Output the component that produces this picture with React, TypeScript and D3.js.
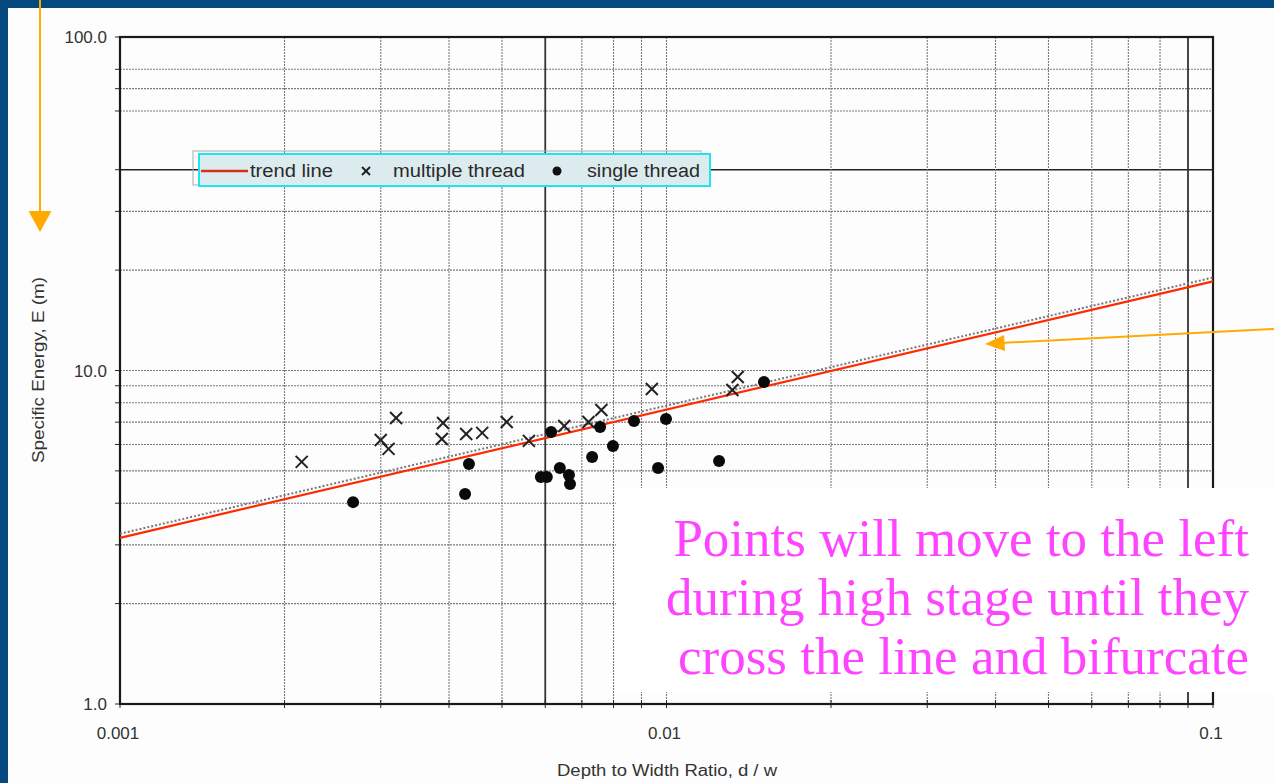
import React from "react";
import * as d3 from "d3";

// ---------- data ----------
const multipleThreadX = [0.00215, 0.0030, 0.0031, 0.0032, 0.0039, 0.00388, 0.0043, 0.0046, 0.0051, 0.0056, 0.0065, 0.0072, 0.0076, 0.0094, 0.0132, 0.0135];
const multipleThreadY = [5.32, 6.19, 5.82, 7.2, 6.96, 6.23, 6.45, 6.5, 7.01, 6.15, 6.82, 7.01, 7.61, 8.8, 8.74, 9.56];
const singleThreadX = [0.00267, 0.00428, 0.00435, 0.00589, 0.00604, 0.00615, 0.00638, 0.00663, 0.00666, 0.00731, 0.00756, 0.00798, 0.00872, 0.00965, 0.00998, 0.01248, 0.01508];
const singleThreadY = [4.03, 4.26, 5.24, 4.79, 4.79, 6.54, 5.1, 4.86, 4.57, 5.5, 6.77, 5.94, 7.06, 5.1, 7.15, 5.35, 9.24];
const trendX = [0.001, 0.1];
const trendY = [3.15, 18.5];
const trendShadowY = [3.24, 19.0];
const xGrid = [0.002, 0.003, 0.004, 0.005, 0.006, 0.007, 0.008, 0.009, 0.01, 0.02, 0.03, 0.04, 0.05, 0.06, 0.07, 0.08, 0.09];
const xGridHeavy = [0.006, 0.09];
const yGrid = [2, 3, 4, 5, 6, 7, 8, 9, 10, 20, 30, 40, 60, 70, 80];
const yGridHeavy = [40];
const xTickLabels = [0.001, 0.01, 0.1];
const xTickText = ["0.001", "0.01", "0.1"];
const yTickLabels = [1, 10, 100];
const yTickText = ["1.0", "10.0", "100.0"];
const legendLabels = ["trend line", "multiple thread", "single thread"];
const noteLines = ["Points will move to the left", "during high stage until they", "cross the line and bifurcate"];

const W = 1274;
const H = 783;
const BLUE = "#044a7e";
const ORANGE = "#ffaa00";

export default function App() {
  const x = d3.scaleLog().domain([0.001, 0.1]).range([120, 1213]);
  const y = d3.scaleLog().domain([1, 100]).range([704, 37]);
  const [x0, x1] = x.range();
  const [yb, yt] = y.range();

  const trendLine = d3.line<number>().x((_, i) => x(trendX[i])).y((d) => y(d));

  const sans = "'Liberation Sans', Arial, sans-serif";
  const ink = "#2a2a2a";

  return (
    <div style={{ position: "fixed", left: 0, top: 0, width: W, height: H }}>
      <svg width={W} height={H} style={{ display: "block" }}>
        <rect x={0} y={0} width={W} height={H} fill={BLUE} />
        <rect x={8} y={8} width={W - 8} height={H - 8} fill="#fdfdfd" />

        {/* grid */}
        <g>
          {yGrid.map((v) => (
            <line
              key={"yg" + v}
              x1={x0}
              x2={x1}
              y1={y(v)}
              y2={y(v)}
              stroke={yGridHeavy.includes(v) ? "#222" : "#7a7a7a"}
              strokeWidth={yGridHeavy.includes(v) ? 1.6 : 1.1}
              strokeDasharray={yGridHeavy.includes(v) ? undefined : "2,1"}
            />
          ))}
          {xGrid.map((v) => (
            <line
              key={"xg" + v}
              x1={x(v)}
              x2={x(v)}
              y1={yt}
              y2={yb}
              stroke={xGridHeavy.includes(v) ? "#333" : "#7a7a7a"}
              strokeWidth={xGridHeavy.includes(v) ? 1.8 : 1.1}
              strokeDasharray={xGridHeavy.includes(v) ? undefined : "2,1"}
            />
          ))}
        </g>

        {/* axis ticks */}
        <g stroke={ink} strokeWidth={1}>
          {yGrid.concat(yTickLabels).map((v) => (
            <line key={"yt" + v} x1={x0 - 5} x2={x0} y1={y(v)} y2={y(v)} />
          ))}
          {xGrid.concat(xTickLabels).map((v) => (
            <line key={"xt" + v} x1={x(v)} x2={x(v)} y1={yb - 4} y2={yb + 4} />
          ))}
        </g>

        {/* frame */}
        <rect x={x0} y={yt} width={x1 - x0} height={yb - yt} fill="none" stroke="#1a1a1a" strokeWidth={2.2} />

        {/* trend lines */}
        <path d={trendLine(trendShadowY) || ""} fill="none" stroke="#777" strokeWidth={2} strokeDasharray="2,2" />
        <path d={trendLine(trendY) || ""} fill="none" stroke="#ff2a00" strokeWidth={2.2} />

        {/* points */}
        <g stroke="#222" strokeWidth={2}>
          {multipleThreadX.map((v, i) => {
            const cx = x(v);
            const cy = y(multipleThreadY[i]);
            const s = 6;
            return (
              <g key={"m" + i}>
                <line x1={cx - s} y1={cy - s} x2={cx + s} y2={cy + s} />
                <line x1={cx - s} y1={cy + s} x2={cx + s} y2={cy - s} />
              </g>
            );
          })}
        </g>
        <g fill="#0a0a0a">
          {singleThreadX.map((v, i) => (
            <circle key={"s" + i} cx={x(v)} cy={y(singleThreadY[i])} r={6} />
          ))}
        </g>

        {/* legend */}
        <g>
          <rect x={193} y={151} width={508} height={34} fill="none" stroke="#aaa" strokeWidth={1} />
          <rect x={199} y={154} width={511} height={32} fill="#dcecee" stroke="#1fe4f0" strokeWidth={2} />
          <line x1={201} x2={248} y1={171} y2={171} stroke="#d8301c" strokeWidth={2.5} />
          <text x={250} y={177} fontFamily={sans} fontSize={18} fill={ink} textLength={83} lengthAdjust="spacingAndGlyphs">
            {legendLabels[0]}
          </text>
          <g stroke="#222" strokeWidth={2}>
            <line x1={362} y1={167} x2={370} y2={175} />
            <line x1={362} y1={175} x2={370} y2={167} />
          </g>
          <text x={393} y={177} fontFamily={sans} fontSize={18} fill={ink} textLength={132} lengthAdjust="spacingAndGlyphs">
            {legendLabels[1]}
          </text>
          <circle cx={557} cy={171} r={4.5} fill="#111" />
          <text x={587} y={177} fontFamily={sans} fontSize={18} fill={ink} textLength={113} lengthAdjust="spacingAndGlyphs">
            {legendLabels[2]}
          </text>
        </g>

        {/* tick labels */}
        <g fontFamily={sans} fontSize={17} fill="#333">
          {yTickLabels.map((v, i) => (
            <text key={"yl" + v} x={107} y={y(v) + 6} textAnchor="end">
              {yTickText[i]}
            </text>
          ))}
          {xTickLabels.map((v, i) => (
            <text key={"xl" + v} x={x(v) - 2} y={739} textAnchor="middle">
              {xTickText[i]}
            </text>
          ))}
          <text x={667} y={776} textAnchor="middle" fontSize={16} textLength={220} lengthAdjust="spacingAndGlyphs">
            Depth to Width Ratio, d / w
          </text>
          <text transform={`translate(44,370) rotate(-90)`} textAnchor="middle" fontSize={16} textLength={186} lengthAdjust="spacingAndGlyphs">
            Specific Energy, E (m)
          </text>
        </g>

        {/* annotation box */}
        <rect x={616} y={488} width={W - 616} height={204} fill="#ffffff" />
        <g fontFamily="'Liberation Serif', 'Times New Roman', serif" fontSize={53} fill="#ff44ff" textAnchor="end">
          {noteLines.map((t, i) => (
            <text key={"n" + i} x={1249} y={556 + i * 59}>
              {t}
            </text>
          ))}
        </g>

        {/* arrows */}
        <g stroke={ORANGE} fill={ORANGE}>
          <line x1={40} y1={0} x2={40} y2={212} strokeWidth={2} />
          <path d="M28.5,211 L51.5,211 L40,232 Z" stroke="none" />
          <line x1={1274} y1={329} x2={1000} y2={343} strokeWidth={2} />
          <path d="M985,344 L1004,335 L1005,351 Z" stroke="none" />
        </g>
      </svg>
    </div>
  );
}
